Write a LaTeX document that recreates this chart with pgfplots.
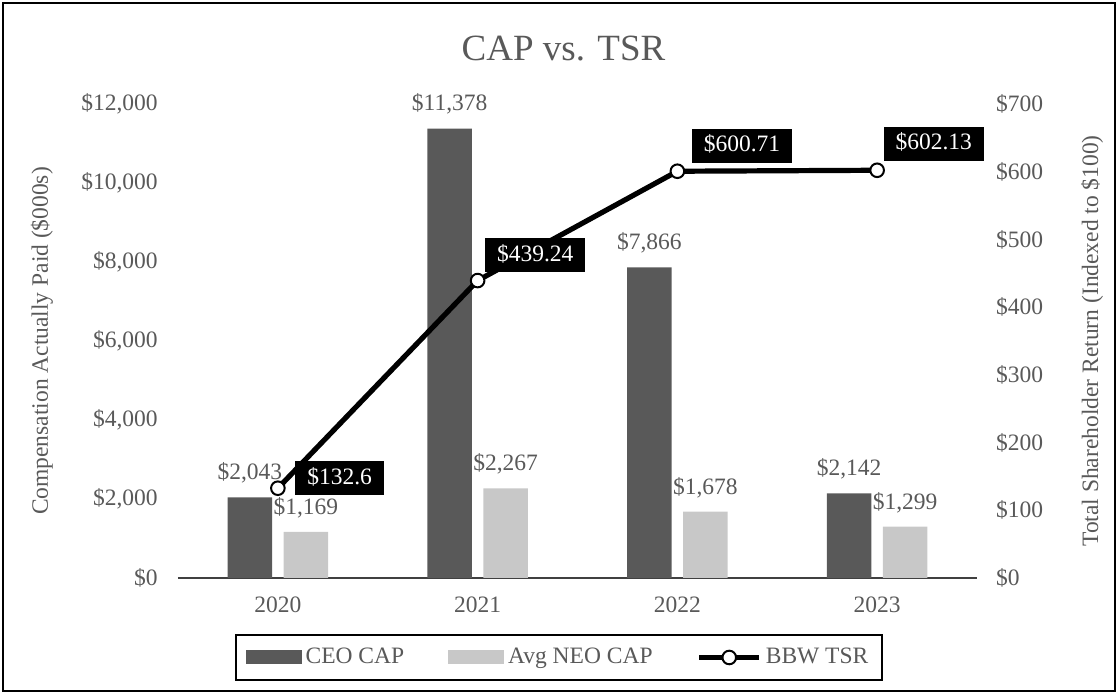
\documentclass[border=0pt]{standalone}
\usepackage{fontspec}
\setmainfont{Liberation Serif}
\usepackage{pgfplots}
\pgfplotsset{compat=1.18}
\usepackage{pgfplotstable}
\definecolor{ceo}{HTML}{595959}
\definecolor{neo}{HTML}{C8C8C8}
\definecolor{txt}{HTML}{595959}
\newcommand\fs{\fontsize{11.75pt}{14pt}\selectfont}

% bars are drawn at category position -/+ 0.14 (categories at 0,1,2,3)
\pgfplotstableread{
x y
-0.14 2043
0.86 11378
1.86 7866
2.86 2142
}\ceodata
\pgfplotstableread{
x y
0.14 1169
1.14 2267
2.14 1678
3.14 1299
}\neodata
\pgfplotstableread{
x y
0 132.6
1 439.24
2 600.71
3 602.13
}\tsrdata

\pgfplotsset{
  base/.style={
    scale only axis, width=399.5pt, height=237pt,
    xmin=-0.5, xmax=3.5, enlargelimits=false, clip=false,
    tick style={draw=none},
    ticklabel style={font=\fs, text=txt},
    label style={font=\fs, text=txt},
    /pgf/number format/1000 sep={,},
    /pgf/number format/assume math mode=true,
  },
  tsrleg/.style={legend image code/.code={\draw[mark repeat=2, mark phase=2, ##1] plot coordinates {(0pt,0pt) (15pt,0pt) (30pt,0pt)};}},
  tsrlab/.style={draw=none, mark=none, forget plot,
    nodes near coords={\$\pgfplotspointmeta}, point meta=explicit symbolic,
    every node near coord/.append style={anchor=west,
      fill=black, text=white, font=\fs, inner xsep=6pt, inner ysep=3.5pt,
      text height=8pt, text depth=2pt}},
  barlab/.style={nodes near coords={\$\pgfmathprintnumber{\pgfplotspointmeta}},
    nodes near coords style={font=\fs, text=txt, yshift=3.5pt}},
}

\begin{document}
\begin{tikzpicture}
\useasboundingbox (-89pt,-58pt) rectangle (470pt,289pt);
\begin{axis}[base,
  ymin=0, ymax=12000, ytick={0,2000,...,12000},
  scaled y ticks=false,
  xtick={0,1,2,3}, xticklabels={2020,2021,2022,2023},
  axis x line*=bottom, axis y line*=left,
  x axis line style={-, draw=black!75, line width=0.8pt},
  y axis line style={draw=none},
  yticklabel={\$\pgfmathprintnumber{\tick}},
  yticklabel style={xshift=-6.6pt},
  xticklabel style={yshift=-6pt},
  ylabel={Compensation Actually Paid (\$000s)},
  ylabel style={at={(axis description cs:-0.1702,0.5)}, anchor=center},
]
\addplot[ybar, bar width=0.223, bar shift=0pt, fill=ceo, draw=none, barlab]
  table[x=x,y=y]{\ceodata};
\addplot[ybar, bar width=0.223, bar shift=0pt, fill=neo, draw=none, barlab]
  table[x=x,y=y]{\neodata};
\end{axis}
\begin{axis}[base,
  ymin=0, ymax=700, ytick={0,100,...,700},
  axis x line=none, axis y line*=right,
  y axis line style={draw=none},
  yticklabel={\$\pgfmathprintnumber{\tick}},
  yticklabel style={xshift=6pt},
  ylabel={Total Shareholder Return (Indexed to \$100)},
  ylabel style={at={(axis description cs:1.1439,0.5)}, anchor=center},
  legend style={at={(axis description cs:0.4768,-0.1677)}, anchor=center,
    legend columns=-1, draw=black, line width=1pt, font=\fs, text=txt,
    inner ysep=4.5pt, inner xsep=5pt,
    /tikz/every even column/.append style={column sep=20pt}},
]
\addlegendimage{legend image code/.code={\fill[ceo] (0pt,-3pt) rectangle (27pt,3pt);}}
\addlegendentry{CEO CAP}
\addlegendimage{legend image code/.code={\fill[neo] (0pt,-3pt) rectangle (27pt,3pt);}}
\addlegendentry{Avg NEO CAP}
\addplot[black, line width=2.6pt, mark=*, mark size=3.4pt,
  mark options={fill=white, draw=black, line width=1pt}, tsrleg]
  table[x=x, y=y]{\tsrdata};
\addlegendentry{BBW TSR}
\addplot[tsrlab, every node near coord/.append style={xshift=8.5pt, yshift=5pt}] coordinates {(0,132.6) [132.6]};
\addplot[tsrlab, every node near coord/.append style={xshift=3.5pt, yshift=12.75pt}] coordinates {(1,439.24) [439.24]};
\addplot[tsrlab, every node near coord/.append style={xshift=7pt, yshift=12.75pt}] coordinates {(2,600.71) [600.71]};
\addplot[tsrlab, every node near coord/.append style={xshift=3pt, yshift=13.25pt}] coordinates {(3,602.13) [602.13]};
\end{axis}
\node[font=\fontsize{18.5pt}{22pt}\selectfont, text=txt] at (192.75pt,264.5pt) {CAP vs. TSR};
\draw[line width=1pt, black] (-87.5pt,-56.5pt) rectangle (468.5pt,287.5pt);
\end{tikzpicture}
\end{document}
